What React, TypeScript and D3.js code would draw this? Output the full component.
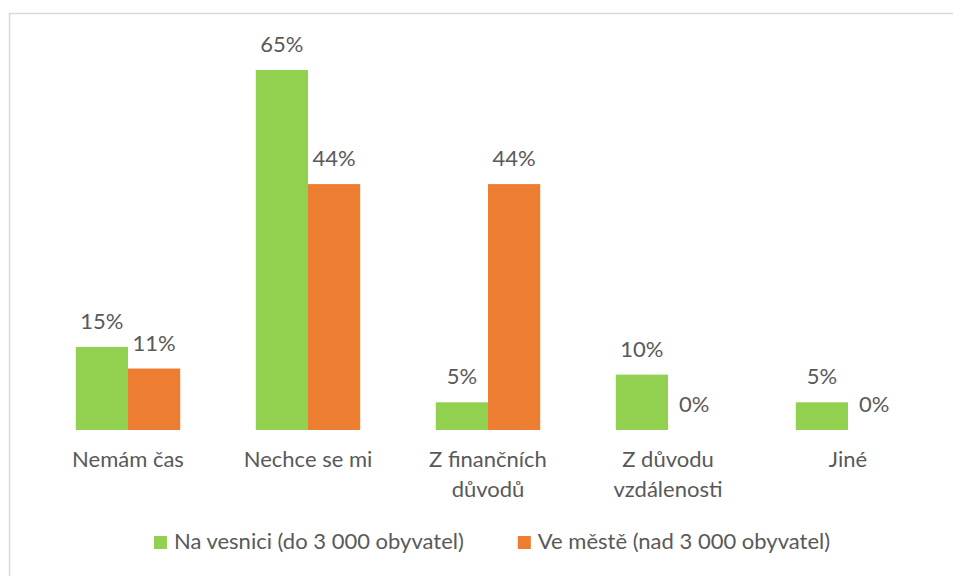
import React, { useEffect, useRef } from "react";
import * as d3 from "d3";

const categories = ["Nemám čas", "Nechce se mi", "Z finančních důvodů", "Z důvodu vzdálenosti", "Jiné"];
const seriesNames = ["Na vesnici (do 3 000 obyvatel)", "Ve městě (nad 3 000 obyvatel)"];
const village = [15, 65, 5, 10, 5];
const town = [11.1, 44.4, 44.4, 0, 0];
const colors = ["#92D050", "#ED7D31"];

const width = 953;
const height = 576;
const font = "Lato, 'Open Sans', sans-serif";
const fontSize = 22;
const textColor = "#595959";

export default function App() {
  const ref = useRef<SVGSVGElement>(null);

  useEffect(() => {
    const svg = d3.select(ref.current);
    svg.selectAll("*").remove();

    // chart frame
    svg.append("rect")
      .attr("x", 9.5)
      .attr("y", 13.5)
      .attr("width", 1000)
      .attr("height", 700)
      .attr("fill", "#fff")
      .attr("stroke", "#d9d9d9")
      .attr("stroke-width", 1.5);

    const x = d3.scaleBand().domain(categories).range([38, 938]).paddingInner(0.42).paddingOuter(0.21);
    const xs = d3.scaleBand().domain(["0", "1"]).range([0, x.bandwidth()]);
    const y = d3.scaleLinear().domain([0, 65]).range([430, 70]);

    const rows = categories.map((c, i) => ({ c, v: [village[i], town[i]] }));

    const g = svg.append("g");
    const groups = g.selectAll("g.cat").data(rows).join("g")
      .attr("class", "cat")
      .attr("transform", d => `translate(${x(d.c)},0)`);

    groups.selectAll("rect").data(d => d.v).join("rect")
      .attr("x", (_, j) => xs(String(j))!)
      .attr("y", d => y(d))
      .attr("width", xs.bandwidth())
      .attr("height", d => y(0) - y(d))
      .attr("fill", (_, j) => colors[j]);

    groups.selectAll("text.lbl").data(d => d.v).join("text")
      .attr("class", "lbl")
      .attr("x", (_, j) => xs(String(j))! + xs.bandwidth() / 2)
      .attr("y", d => y(d) - 18)
      .attr("text-anchor", "middle")
      .attr("font-family", font)
      .attr("font-size", fontSize)
      .attr("fill", textColor)
      .text(d => `${Math.round(d)}%`);

    // category labels, wrapped
    const catLabels = g.selectAll("text.cat").data(categories).join("text")
      .attr("class", "cat")
      .attr("text-anchor", "middle")
      .attr("font-family", font)
      .attr("font-size", fontSize)
      .attr("fill", textColor)
      .attr("x", d => x(d)! + x.bandwidth() / 2)
      .attr("y", 467);

    catLabels.each(function (d) {
      const t = d3.select(this);
      const words = d.split(" ");
      let line: string[] = [];
      let tspan = t.append("tspan").attr("x", t.attr("x")).attr("dy", 0);
      for (const w of words) {
        line.push(w);
        tspan.text(line.join(" "));
        if ((tspan.node() as SVGTSpanElement).getComputedTextLength() > 150 && line.length > 1) {
          line.pop();
          tspan.text(line.join(" "));
          line = [w];
          tspan = t.append("tspan").attr("x", t.attr("x")).attr("dy", 30).text(w);
        }
      }
    });

    // legend
    const legend = svg.append("g");
    const items = legend.selectAll("g").data(seriesNames).join("g");
    items.append("rect")
      .attr("width", 13)
      .attr("height", 13)
      .attr("y", -13)
      .attr("fill", (_, i) => colors[i]);
    items.append("text")
      .attr("x", 20)
      .attr("font-family", font)
      .attr("font-size", fontSize)
      .attr("fill", textColor)
      .text(d => d);
    let offset = 0;
    const gap = 54;
    const widths: number[] = [];
    items.each(function () {
      widths.push((this as SVGGElement).getBBox().width);
    });
    const total = d3.sum(widths) + gap * (widths.length - 1);
    const start = 492 - total / 2;
    items.attr("transform", (_, i) => {
      const tx = start + offset;
      offset += widths[i] + gap;
      return `translate(${tx},549)`;
    });
  }, []);

  return (
    <svg
      ref={ref}
      width={width}
      height={height}
      style={{ position: "absolute", left: 0, top: 0, background: "#fff" }}
    ></svg>
  );
}
